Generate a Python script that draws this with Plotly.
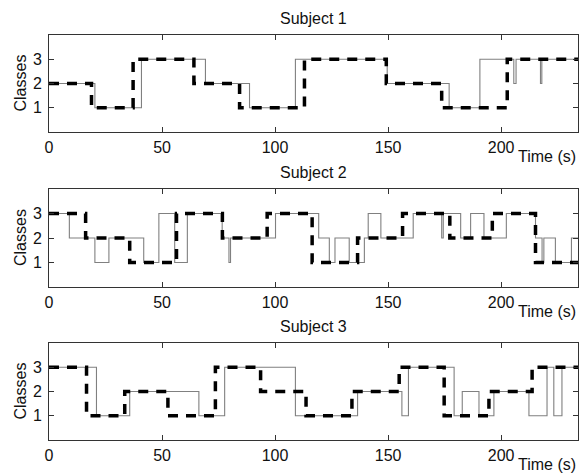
import plotly.graph_objects as go

# ---- data ----
subjects = ["Subject 1", "Subject 2", "Subject 3"]

s1_true_t = [0, 20.3, 40.9, 69.2, 88.7, 109, 149.6, 177, 190.6, 205.6, 206.6, 217.4, 218, 234]
s1_true_v = [2, 1, 3, 2, 1, 3, 2, 1, 3, 2, 3, 2, 3, 3]
s1_pred_t = [0, 18.8, 37.2, 64.1, 84.3, 113, 149.2, 173.7, 202.7, 234]
s1_pred_v = [2, 1, 3, 2, 1, 3, 2, 1, 3, 3]

s2_true_t = [0, 9, 20.3, 26.5, 41.9, 48.6, 55.6, 61.2, 76.6, 79.6, 80.3, 100.2, 119.3, 124, 126.5, 132.8,
             139.5, 141.2, 146.8, 161.1, 173.7, 174.4, 182.1, 186.5, 192.4, 202.3, 215.2, 218.1, 218.9, 224,
             231.1, 234]
s2_true_v = [3, 2, 1, 2, 1, 3, 1, 3, 2, 1, 2, 3, 2, 1, 2, 1,
             2, 3, 2, 3, 2, 3, 2, 3, 2, 3, 2, 1, 2, 1,
             2, 2]
s2_pred_t = [0, 16.2, 35.7, 56.4, 76.7, 96.5, 116.4, 136.5, 156.4, 177.3, 196.1, 215.2, 234]
s2_pred_v = [3, 2, 1, 3, 2, 3, 1, 2, 3, 2, 3, 1, 1]

s3_true_t = [0, 21, 35.7, 66.3, 77.7, 109, 136.5, 156.1, 159, 179.2, 182.8, 190.2, 196.8, 212.3, 220.3,
             223.3, 226.9, 234]
s3_true_v = [3, 1, 2, 1, 3, 1, 2, 1, 3, 1, 2, 1, 2, 1, 3, 1, 3, 3]
s3_pred_t = [0, 16.6, 33.5, 52.6, 73.6, 93.6, 113.7, 134, 154.9, 174.8, 194.6, 213.7, 234]
s3_pred_v = [3, 1, 2, 1, 3, 2, 1, 2, 3, 1, 2, 3, 3]

x_ticks = [0, 50, 100, 150, 200]
y_ticks = [1, 2, 3]
x_title = "Time (s)"
y_title = "Classes"

series = [
    (s1_true_t, s1_true_v, s1_pred_t, s1_pred_v),
    (s2_true_t, s2_true_v, s2_pred_t, s2_pred_v),
    (s3_true_t, s3_true_v, s3_pred_t, s3_pred_v),
]

# ---- layout geometry (pixels of the 581x474 page; body margin removed) ----
W, H = 581, 474
ML, MR, MT = 49, 3, 35
MB = H - 440
ph = H - MT - MB
rows_px = [(35, 132), (189, 287), (343, 440)]


def to_paper(py):
    return (H - MB - py) / ph


FONT = "Liberation Sans, Arial, sans-serif"
FS = 16
fig = go.Figure()
layout = dict(
    width=W, height=H,
    margin=dict(l=ML, r=MR, t=MT, b=MB),
    plot_bgcolor="white", paper_bgcolor="white",
    showlegend=False,
    font=dict(family=FONT, size=FS, color="#111111"),
)
annotations = []
for i, (tt, tv, pt, pv) in enumerate(series):
    n = i + 1
    xa = "x" if n == 1 else f"x{n}"
    ya = "y" if n == 1 else f"y{n}"
    fig.add_trace(go.Scatter(x=tt, y=tv, mode="lines", line_shape="hv",
                             line=dict(color="#808080", width=1.1),
                             xaxis=xa, yaxis=ya))
    fig.add_trace(go.Scatter(x=pt, y=pv, mode="lines", line_shape="hv",
                             line=dict(color="black", width=3.5, dash="10px,8px"),
                             xaxis=xa, yaxis=ya))
    top, bot = rows_px[i]
    dom = [to_paper(bot), to_paper(top)]
    layout[f"xaxis{n if n > 1 else ''}"] = dict(
        domain=[0, 1], anchor=ya, range=[0, 234],
        tickvals=x_ticks, ticks="inside", ticklen=5, tickcolor="#333",
        showline=True, linecolor="#333", linewidth=1, mirror="ticks",
        showgrid=False, zeroline=False, ticklabelstandoff=1,
        tickfont=dict(family=FONT, size=FS, color="#111"),
    )
    layout[f"yaxis{n if n > 1 else ''}"] = dict(
        domain=dom, anchor=xa, range=[0, 4],
        tickvals=y_ticks, ticks="inside", ticklen=5, tickcolor="#333",
        showline=True, linecolor="#333", linewidth=1, mirror="ticks",
        showgrid=False, zeroline=False, ticklabelstandoff=3,
        tickfont=dict(family=FONT, size=FS, color="#111"),
    )
    annotations.append(dict(text=subjects[i], xref="paper", yref="paper",
                            x=0.5, y=dom[1], xanchor="center", yanchor="bottom",
                            yshift=6, showarrow=False,
                            font=dict(family=FONT, size=FS, color="#111")))
    annotations.append(dict(text=y_title, xref="paper", yref="paper",
                            x=(20 - ML) / (W - ML - MR), y=(dom[0] + dom[1]) / 2,
                            xanchor="center", yanchor="middle", textangle=-90,
                            showarrow=False,
                            font=dict(family=FONT, size=FS, color="#111")))
    annotations.append(dict(text=x_title, xref="paper", yref="paper",
                            x=1, y=dom[0], xanchor="right", yanchor="middle",
                            yshift=-24, showarrow=False,
                            font=dict(family=FONT, size=FS, color="#111")))
layout["annotations"] = annotations
fig.update_layout(**layout)
fig.write_html(
    "out.html",
    config={"displayModeBar": False},
    post_script="document.body.style.margin='0';document.body.style.overflow='hidden';",
)
